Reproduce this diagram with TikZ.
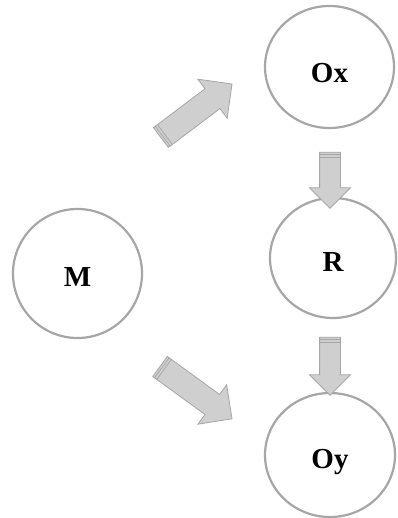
\documentclass[tikz,border=0pt]{standalone}
\usepackage{fontspec}
\setmainfont{Liberation Serif}
\usetikzlibrary{shapes.geometric, shapes.arrows, calc}
\definecolor{ringgray}{HTML}{A6A6A6}
\definecolor{arrowfill}{HTML}{CFCFCF}

\begin{document}
\begin{tikzpicture}[x=1pt, y=-1pt,
    state/.style={ellipse,draw=ringgray,line width=2.2pt,inner sep=0pt,
                  font=\fontsize{29}{32}\selectfont\bfseries,text height=19pt,text depth=0pt},
    flow/.style={single arrow,draw=ringgray,fill=arrowfill,line width=0.8pt,
                 inner xsep=0pt,inner ysep=#1,single arrow head extend=#1,
                 single arrow tip angle=90,minimum width=1pt},
    stripe/.style={draw=ringgray,line width=0.7pt}]
        \useasboundingbox (0,0) rectangle (397,518);
        % states
        \node[state,minimum width=129pt,minimum height=129pt] (M)  at (77.5,273.5) {\raisebox{-3pt}{M}};
        \node[state,minimum width=129pt,minimum height=122pt] (Ox) at (329.5,67)   {\raisebox{-6pt}{Ox}};
        \node[state,minimum width=126pt,minimum height=120pt] (R)  at (333,258)    {\raisebox{-4pt}{R}};
        \node[state,minimum width=130pt,minimum height=124pt] (Oy) at (330,455)    {\raisebox{-4pt}{Oy}};
        % block arrows
        \node[flow=12pt,minimum height=89pt,rotate=37]  (up) at (191.5,114.5) {};
        \node[flow=12pt,minimum height=89pt,rotate=-36] (dn) at (191,389)     {};
        \node[flow=10pt,minimum height=56pt,rotate=-90] (ox) at (330,175)     {};
        \node[flow=10pt,minimum height=58pt,rotate=-90] (r)  at (330,361)     {};
        \foreach \a/\f/\g in {up/0.03/0.06, dn/0.03/0.06, ox/0.05/0.09, r/0.05/0.09} {
            \draw[stripe] ($(\a.before tail)+{\f}*(\a.tip)-{\f}*(\a.tail)$)
                       -- ($(\a.after tail)+{\f}*(\a.tip)-{\f}*(\a.tail)$);
            \draw[stripe] ($(\a.before tail)+{\g}*(\a.tip)-{\g}*(\a.tail)$)
                       -- ($(\a.after tail)+{\g}*(\a.tip)-{\g}*(\a.tail)$);
        }
\end{tikzpicture}
\end{document}
